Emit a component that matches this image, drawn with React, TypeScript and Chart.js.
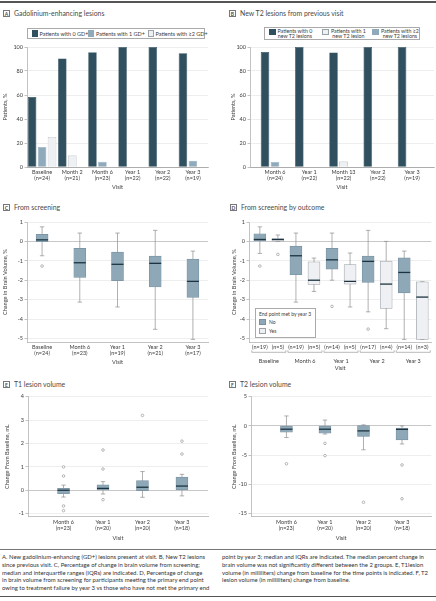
import React, { useEffect, useRef } from "react";
import { Chart, registerables } from "chart.js";
Chart.register(...registerables);

const FONT = "Lato, 'Open Sans', 'DejaVu Sans', sans-serif";
const TXT = "#3c3c3c";
const DARK = "#31505f";
const MED = "#8faabb";
const LIGHT = "#eef0f3";
const LIGHT_BORDER = "#9aa1a7";
const BOX = "#8ea8b8";
const BOX_BORDER = "#7890a0";
const MEDIAN = "#1d3440";
const WHISKER = "#8e8e8e";

// ---------------- Panel A: gadolinium-enhancing lesions ----------------
const visitsA = ["Baseline", "Month 2", "Month 6", "Year 1", "Year 2", "Year 3"];
const nA = [24, 21, 23, 22, 22, 19];
const gd0A = [58.3, 90.5, 95.7, 100, 100, 94.7];
const gd1A = [16.7, 0, 4.3, 0, 0, 5.3];
const gd2A = [25.0, 9.5, 0, 0, 0, 0];
const legendA = ["Patients with 0 GD+", "Patients with 1 GD+", "Patients with \u22652 GD+"];

// ---------------- Panel B: new T2 lesions ----------------
const visitsB = ["Month 6", "Year 1", "Month 13", "Year 2", "Year 3"];
const nB = [24, 22, 22, 22, 19];
const t2zeroB = [95.8, 100, 95.5, 100, 100];
const t2oneB = [0, 0, 4.5, 0, 0];
const t2twoB = [4.2, 0, 0, 0, 0];
const legendB = [
  ["Patients with 0", "new T2 lesions"],
  ["Patients with 1", "new T2 lesion"],
  ["Patients with \u22652", "new T2 lesions"],
];

// ---------------- Panel C: brain volume from screening ----------------
const visitsC = ["Baseline", "Month 6", "Year 1", "Year 2", "Year 3"];
const nC = [24, 23, 19, 21, 17];
const loC = [-0.74, -3.13, -3.38, -4.53, -5.05];
const q1C = [-0.02, -1.86, -2.02, -2.35, -2.89];
const medC = [0.08, -1.1, -1.18, -1.13, -2.06];
const q3C = [0.36, -0.36, -0.55, -0.76, -0.91];
const hiC = [0.75, 0.43, 0.43, 0.57, -0.5];
const outVisitC = [0];
const outValueC = [-1.27];

// ---------------- Panel D: brain volume by outcome ----------------
const visitsD = ["Baseline", "Month 6", "Year 1", "Year 2", "Year 3"];
const nNoD = [19, 19, 14, 17, 14];
const nYesD = [5, 5, 5, 4, 3];
const loNoD = [-0.62, -3.13, -2.0, -3.63, -5.05];
const q1NoD = [0.03, -1.72, -1.43, -2.11, -2.65];
const medNoD = [0.1, -0.74, -0.95, -1.03, -1.6];
const q3NoD = [0.39, -0.24, -0.36, -0.76, -0.85];
const hiNoD = [0.75, 0.43, 0.43, 0.57, -0.5];
const outVisitNoD = [0, 2, 3];
const outValueNoD = [-1.27, -3.35, -4.52];
const loYesD = [0.0, -2.58, -3.38, -4.5, -5.05];
const q1YesD = [0.0, -2.22, -2.2, -3.45, -5.05];
const medYesD = [0.1, -2.0, -2.06, -2.2, -2.87];
const q3YesD = [0.15, -1.05, -1.2, -1.02, -2.08];
const hiYesD = [0.33, -0.86, -0.6, 0.0, -2.08];
const outVisitYesD = [0];
const outValueYesD = [-0.67];

// ---------------- Panel E: T1 lesion volume ----------------
const visitsE = ["Month 6", "Year 1", "Year 2", "Year 3"];
const nE = [23, 20, 20, 18];
const loE = [-0.29, -0.16, -0.3, -0.24];
const q1E = [-0.15, 0.01, -0.02, 0.0];
const medE = [0.0, 0.08, 0.13, 0.18];
const q3E = [0.08, 0.23, 0.41, 0.56];
const hiE = [0.22, 0.37, 0.8, 0.68];
const outVisitE = [0, 0, 0, 0, 1, 1, 1, 2, 3, 3];
const outValueE = [1.0, 0.61, -0.67, -0.87, 1.72, 0.91, -0.4, 3.2, 2.1, 1.55];

// ---------------- Panel F: T2 lesion volume ----------------
const visitsF = ["Month 6", "Year 1", "Year 2", "Year 3"];
const nF = [23, 20, 20, 18];
const loF = [-2.0, -1.4, -4.1, -3.1];
const q1F = [-1.09, -1.26, -1.83, -2.4];
const medF = [-0.57, -0.57, -0.86, -0.6];
const q3F = [0.0, -0.05, 0.05, -0.4];
const hiF = [1.7, 1.0, 0.17, 0.0];
const outVisitF = [0, 1, 1, 2, 3, 3];
const outValueF = [-6.5, -3.0, -5.1, -13.1, -6.7, -12.5];

const captionLeft = [
  "A. New gadolinium-enhancing (GD+) lesions present at visit. B, New T2 lesions",
  "since previous visit. C, Percentage of change in brain volume from screening;",
  "median and interquartile ranges (IQRs) are indicated. D, Percentage of change",
  "in brain volume from screening for participants meeting the primary end point",
  "owing to treatment failure by year 3 vs those who have not met the primary end",
];
const captionRight = [
  "point by year 3; median and IQRs are indicated. The median percent change in",
  "brain volume was not significantly different between the 2 groups. E, T1lesion",
  "volume (in milliliters) change from baseline for the time points is indicated. F, T2",
  "lesion volume (in milliliters) change from baseline.",
];

// ---------------- helpers ----------------
const tickFont = { family: FONT, size: 5.5, lineHeight: 1.1 };
const titleFont = { family: FONT, size: 5.6, lineHeight: 1.1 };
const nLabel = (n: number) => `(n=${n})`;

function yAxis(o: { min: number; max: number; step: number; title: string; width: number; titlePad: number }) {
  return {
    type: "linear",
    position: "left",
    min: o.min,
    max: o.max,
    beginAtZero: false,
    ticks: { stepSize: o.step, includeBounds: false, font: tickFont, color: TXT, padding: 1.5 },
    grid: {
      color: (c: any) => (c.tick && c.tick.value === 0 ? "#a3a3a3" : "#e3e3e3"),
      lineWidth: 0.6,
      drawTicks: true,
      tickLength: 2.5,
      tickColor: "#9a9a9a",
      tickWidth: 0.6,
    },
    border: { display: true, color: "#9a9a9a", width: 0.6 },
    title: { display: true, text: o.title, font: titleFont, color: TXT, padding: { top: o.titlePad, bottom: 0 } },
    afterFit: (s: any) => {
      s.width = o.width;
    },
  };
}

function xLinear(o: {
  min: number;
  max: number;
  ticks: number[];
  labels: (string | string[])[];
  height: number;
  pad: number;
  title?: string;
  titlePad?: number;
  border?: boolean;
  weight?: number;
}) {
  return {
    type: "linear",
    position: "bottom",
    min: o.min,
    max: o.max,
    offset: false,
    weight: o.weight ?? 0,
    afterBuildTicks: (s: any) => {
      s.ticks = o.ticks.map((v) => ({ value: v }));
    },
    ticks: {
      autoSkip: false,
      maxRotation: 0,
      minRotation: 0,
      font: tickFont,
      color: TXT,
      padding: o.pad,
      callback: (_v: any, i: number) => o.labels[i],
    },
    grid: { display: false, drawTicks: false, offset: false },
    border: { display: o.border !== false, color: "#9a9a9a", width: 0.6 },
    title: o.title
      ? { display: true, text: o.title, font: titleFont, color: TXT, padding: { top: 0, bottom: o.titlePad ?? 0 } }
      : { display: false },
    afterFit: (s: any) => {
      s.height = o.height;
    },
  };
}

// compact non-zero series into left-aligned slots, as in the original figure
function slotsFrom(series: number[][], fills: string[], borders: string[]) {
  const n = series[0].length;
  const slots = series.map(() => ({
    data: new Array(n).fill(null) as (number | null)[],
    bg: new Array(n).fill("rgba(0,0,0,0)") as string[],
    bd: new Array(n).fill("rgba(0,0,0,0)") as string[],
  }));
  for (let i = 0; i < n; i++) {
    let k = 0;
    series.forEach((s, j) => {
      if (s[i] > 0) {
        slots[k].data[i] = s[i];
        slots[k].bg[i] = fills[j];
        slots[k].bd[i] = borders[j];
        k++;
      }
    });
  }
  return slots;
}

type BoxItem = { ds: number; lo: number[]; hi: number[]; med: number[] };
function makeBoxPlugin(items: BoxItem[], brackets?: { pairs: number[][] }) {
  return {
    id: "boxExtras",
    beforeDatasetsDraw(chart: any) {
      const ctx = chart.ctx;
      const y = chart.scales.y;
      ctx.save();
      ctx.strokeStyle = WHISKER;
      ctx.lineWidth = 0.7;
      items.forEach((it) => {
        const meta = chart.getDatasetMeta(it.ds);
        meta.data.forEach((el: any, i: number) => {
          const x = el.x;
          const ylo = y.getPixelForValue(it.lo[i]);
          const yhi = y.getPixelForValue(it.hi[i]);
          ctx.beginPath();
          ctx.moveTo(x, ylo);
          ctx.lineTo(x, yhi);
          ctx.moveTo(x - 2.2, ylo);
          ctx.lineTo(x + 2.2, ylo);
          ctx.moveTo(x - 2.2, yhi);
          ctx.lineTo(x + 2.2, yhi);
          ctx.stroke();
        });
      });
      ctx.restore();
    },
    afterDatasetsDraw(chart: any) {
      const ctx = chart.ctx;
      const y = chart.scales.y;
      ctx.save();
      ctx.strokeStyle = MEDIAN;
      ctx.lineWidth = 1.3;
      items.forEach((it) => {
        const meta = chart.getDatasetMeta(it.ds);
        meta.data.forEach((el: any, i: number) => {
          const ym = y.getPixelForValue(it.med[i]);
          ctx.beginPath();
          ctx.moveTo(el.x - el.width / 2, ym);
          ctx.lineTo(el.x + el.width / 2, ym);
          ctx.stroke();
        });
      });
      ctx.restore();
    },
    afterDraw(chart: any) {
      if (!brackets) return;
      const ctx = chart.ctx;
      const xs = chart.scales.x;
      const yb = xs.bottom + 1;
      ctx.save();
      ctx.strokeStyle = "#8a8a8a";
      ctx.lineWidth = 0.6;
      brackets.pairs.forEach(([a, b]) => {
        const l = xs.getPixelForValue(a) - 8;
        const r = xs.getPixelForValue(b) + 8;
        ctx.beginPath();
        ctx.moveTo(l, yb - 2);
        ctx.lineTo(l, yb);
        ctx.lineTo(r, yb);
        ctx.lineTo(r, yb - 2);
        ctx.stroke();
      });
      ctx.restore();
    },
  };
}

function boxDataset(xs: number[], q1: number[], q3: number[], fill: string, border: string) {
  return {
    type: "bar",
    data: xs.map((x, i) => ({ x, y: [q1[i], q3[i]] })),
    backgroundColor: fill,
    borderColor: border,
    borderWidth: 0.7,
    borderSkipped: false,
    barThickness: 12,
    grouped: false,
  };
}

function outlierDataset(xs: number[], vals: number[]) {
  return {
    type: "scatter",
    data: xs.map((x, i) => ({ x, y: vals[i] })),
    pointRadius: 1.3,
    pointStyle: "circle",
    backgroundColor: "#ffffff",
    borderColor: "#9a9a9a",
    borderWidth: 0.7,
    showLine: false,
  };
}

const basePlugins = { legend: { display: false }, tooltip: { enabled: false } };

// ---------------- chart configs ----------------
function configA() {
  const slots = slotsFrom([gd0A, gd1A, gd2A], [DARK, MED, LIGHT], [DARK, MED, LIGHT_BORDER]);
  return {
    type: "bar",
    data: {
      labels: visitsA.map((v, i) => [v, nLabel(nA[i])]),
      datasets: slots.map((s) => ({
        data: s.data,
        backgroundColor: s.bg,
        borderColor: s.bd,
        borderWidth: 0.6,
        categoryPercentage: 0.99,
        barPercentage: 0.86,
      })),
    },
    options: {
      animation: false,
      responsive: false,
      layout: { padding: { top: 7, right: 8, left: 0, bottom: 0 } },
      plugins: basePlugins,
      scales: {
        x: {
          type: "category",
          grid: { display: false, drawTicks: false },
          border: { display: true, color: "#9a9a9a", width: 0.6 },
          ticks: { font: tickFont, color: TXT, padding: 2.3, maxRotation: 0, autoSkip: false },
          title: { display: true, text: "Visit", font: titleFont, color: TXT, padding: { top: 0, bottom: 4.7 } },
          afterFit: (s: any) => {
            s.height = 28;
          },
        },
        y: yAxis({ min: 0, max: 100, step: 20, title: "Patients, %", width: 27, titlePad: 2 }),
      },
    },
  };
}

function configB() {
  const slots = slotsFrom([t2zeroB, t2oneB, t2twoB], [DARK, LIGHT, MED], [DARK, LIGHT_BORDER, MED]);
  const xs = visitsB.map((_, i) => i + 1);
  return {
    type: "bar",
    data: {
      datasets: slots.map((s) => ({
        data: xs.map((x, i) => ({ x, y: s.data[i] })),
        backgroundColor: s.bg,
        borderColor: s.bd,
        borderWidth: 0.6,
        categoryPercentage: 0.876,
        barPercentage: 0.86,
      })),
    },
    options: {
      animation: false,
      responsive: false,
      layout: { padding: { top: 7, right: 2, left: 0, bottom: 0 } },
      plugins: basePlugins,
      scales: {
        x: xLinear({
          min: 0.27,
          max: 5.64,
          ticks: xs,
          labels: visitsB.map((v, i) => [v, nLabel(nB[i])]),
          height: 28,
          pad: 2.3,
          title: "Visit",
          titlePad: 4.7,
        }),
        y: yAxis({ min: 0, max: 100, step: 20, title: "Patients, %", width: 34, titlePad: 14 }),
      },
    },
  };
}

function configC() {
  const xs = visitsC.map((_, i) => i + 1);
  return {
    type: "bar",
    data: {
      datasets: [
        boxDataset(xs, q1C, q3C, BOX, BOX_BORDER),
        outlierDataset(outVisitC.map((v) => v + 1), outValueC),
      ],
    },
    options: {
      animation: false,
      responsive: false,
      layout: { padding: { top: 7, right: 8, left: 0, bottom: 0 } },
      plugins: basePlugins,
      scales: {
        x: xLinear({
          min: 0.6,
          max: 5.4,
          ticks: xs,
          labels: visitsC.map((v, i) => [v, nLabel(nC[i])]),
          height: 27.7,
          pad: 2,
          title: "Visit",
          titlePad: 4.3,
        }),
        y: yAxis({ min: -5.2, max: 1, step: 1, title: "Change in Brain Volume, %", width: 27, titlePad: 2 }),
      },
    },
    plugins: [makeBoxPlugin([{ ds: 0, lo: loC, hi: hiC, med: medC }])],
  };
}

function configD() {
  const xsNo = visitsD.map((_, i) => 2 * i + 1);
  const xsYes = visitsD.map((_, i) => 2 * i + 2);
  const nTicks: number[] = [];
  const nLabels: string[] = [];
  visitsD.forEach((_, i) => {
    nTicks.push(2 * i + 1, 2 * i + 2);
    nLabels.push(nLabel(nNoD[i]), nLabel(nYesD[i]));
  });
  return {
    type: "bar",
    data: {
      datasets: [
        boxDataset(xsNo, q1NoD, q3NoD, BOX, BOX_BORDER),
        boxDataset(xsYes, q1YesD, q3YesD, LIGHT, LIGHT_BORDER),
        outlierDataset(outVisitNoD.map((v) => 2 * v + 1), outValueNoD),
        outlierDataset(outVisitYesD.map((v) => 2 * v + 2), outValueYesD),
      ],
    },
    options: {
      animation: false,
      responsive: false,
      layout: { padding: { top: 7, right: 0, left: 0, bottom: 0 } },
      plugins: basePlugins,
      scales: {
        x: xLinear({ min: 0.4, max: 10.5, ticks: nTicks, labels: nLabels, height: 9, pad: 2, weight: 0 }),
        x2: xLinear({
          min: 0.4,
          max: 10.5,
          ticks: visitsD.map((_, i) => 2 * i + 1.5),
          labels: visitsD,
          height: 23.7,
          pad: 6.4,
          title: "Visit",
          titlePad: 3.7,
          border: false,
          weight: 1,
        }),
        y: yAxis({ min: -5.2, max: 1, step: 1, title: "Change in Brain Volume, %", width: 33, titlePad: 15.3 }),
      },
    },
    plugins: [
      makeBoxPlugin(
        [
          { ds: 0, lo: loNoD, hi: hiNoD, med: medNoD },
          { ds: 1, lo: loYesD, hi: hiYesD, med: medYesD },
        ],
        { pairs: visitsD.map((_, i) => [2 * i + 1, 2 * i + 2]) }
      ),
    ],
  };
}

function configEF(
  visits: string[],
  n: number[],
  lo: number[],
  q1: number[],
  med: number[],
  q3: number[],
  hi: number[],
  outV: number[],
  outY: number[],
  y: { min: number; max: number; step: number; width: number; titlePad: number },
  x: { min: number; max: number },
  rightPad: number
) {
  const xs = visits.map((_, i) => i + 1);
  return {
    type: "bar",
    data: {
      datasets: [boxDataset(xs, q1, q3, BOX, BOX_BORDER), outlierDataset(outV.map((v) => v + 1), outY)],
    },
    options: {
      animation: false,
      responsive: false,
      layout: { padding: { top: 6.7, right: rightPad, left: 0, bottom: 0 } },
      plugins: basePlugins,
      scales: {
        x: xLinear({
          min: x.min,
          max: x.max,
          ticks: xs,
          labels: visits.map((v, i) => [v, nLabel(n[i])]),
          height: 28.3,
          pad: 2,
          title: "Visit",
          titlePad: 3.7,
        }),
        y: yAxis({ ...y, title: "Change From Baseline, mL" }),
      },
    },
    plugins: [makeBoxPlugin([{ ds: 0, lo, hi, med }])],
  };
}

function ChartCanvas(p: { left: number; top: number; width: number; height: number; make: () => any }) {
  const ref = useRef<HTMLCanvasElement>(null);
  useEffect(() => {
    const chart = new Chart(ref.current as HTMLCanvasElement, p.make());
    return () => chart.destroy();
  }, []);
  return (
    <canvas
      ref={ref}
      width={p.width}
      height={p.height}
      style={{ position: "absolute", left: p.left, top: p.top, width: p.width, height: p.height }}
    />
  );
}

function PanelHeader(p: { x: number; y: number; letter: string; text: string }) {
  return (
    <div
      style={{
        position: "absolute",
        left: p.x,
        top: p.y - 5,
        height: 10,
        display: "flex",
        alignItems: "center",
        fontFamily: FONT,
        fontSize: 6.9,
        color: "#4a4a4a",
        whiteSpace: "nowrap",
      }}
    >
      <span
        style={{
          display: "inline-block",
          width: 7,
          height: 7,
          border: "0.7px solid #777",
          boxSizing: "border-box",
          fontSize: 5,
          lineHeight: "6px",
          textAlign: "center",
          fontWeight: 700,
          marginRight: 4,
        }}
      >
        {p.letter}
      </span>
      <span>{p.text}</span>
    </div>
  );
}

function Swatch(p: { color: string; border: string; w?: number; h?: number }) {
  return (
    <span
      style={{
        display: "inline-block",
        width: p.w ?? 6,
        height: p.h ?? 6,
        background: p.color,
        border: `0.6px solid ${p.border}`,
        boxSizing: "border-box",
        flex: "none",
      }}
    />
  );
}

function LegendA() {
  const cols = [DARK, MED, LIGHT];
  const bords = [DARK, MED, LIGHT_BORDER];
  const xs = [3.5, 60, 119.5];
  return (
    <div
      style={{
        position: "absolute",
        left: 27,
        top: 28,
        width: 178,
        height: 11,
        border: "0.7px solid #aaa",
        boxSizing: "border-box",
        fontFamily: FONT,
        fontSize: 5.5,
        color: TXT,
      }}
    >
      {legendA.map((t, i) => (
        <div
          key={i}
          style={{ position: "absolute", left: xs[i], top: 1.3, display: "flex", alignItems: "center", whiteSpace: "nowrap", height: 7 }}
        >
          <Swatch color={cols[i]} border={bords[i]} w={6} h={7} />
          <span style={{ marginLeft: 2 }}>{t}</span>
        </div>
      ))}
    </div>
  );
}

function LegendB() {
  const cols = [DARK, LIGHT, MED];
  const bords = [DARK, LIGHT_BORDER, MED];
  const xs = [3.5, 57, 107];
  return (
    <div
      style={{
        position: "absolute",
        left: 264,
        top: 26.5,
        width: 156,
        height: 13,
        border: "0.7px solid #aaa",
        boxSizing: "border-box",
        fontFamily: FONT,
        fontSize: 5.3,
        color: TXT,
      }}
    >
      {legendB.map((t, i) => (
        <div key={i} style={{ position: "absolute", left: xs[i], top: 1.3, display: "flex", alignItems: "flex-start" }}>
          <Swatch color={cols[i]} border={bords[i]} w={7} h={6} />
          <span style={{ marginLeft: 2, lineHeight: "4.8px", textAlign: "center", whiteSpace: "nowrap" }}>
            {t[0]}
            <br />
            {t[1]}
          </span>
        </div>
      ))}
    </div>
  );
}

function LegendD() {
  return (
    <div
      style={{
        position: "absolute",
        left: 255,
        top: 308,
        width: 61,
        height: 30,
        border: "0.7px solid #aaa",
        boxSizing: "border-box",
        background: "#fff",
        fontFamily: FONT,
        fontSize: 5,
        color: TXT,
        padding: "2px 0 0 3px",
        lineHeight: "6px",
        whiteSpace: "nowrap",
      }}
    >
      <div>End point met by year 3</div>
      <div style={{ display: "flex", alignItems: "center", marginTop: 1.5 }}>
        <Swatch color={BOX} border={BOX_BORDER} w={7} h={6} />
        <span style={{ marginLeft: 3 }}>No</span>
      </div>
      <div style={{ display: "flex", alignItems: "center", marginTop: 3 }}>
        <Swatch color={LIGHT} border={LIGHT_BORDER} w={7} h={6} />
        <span style={{ marginLeft: 3 }}>Yes</span>
      </div>
    </div>
  );
}

function Caption(p: { x: number; lines: string[] }) {
  return (
    <div
      style={{
        position: "absolute",
        left: p.x,
        top: 553,
        fontFamily: FONT,
        fontSize: 5.95,
        lineHeight: "7.8px",
        color: "#333",
        whiteSpace: "nowrap",
      }}
    >
      {p.lines.map((l, i) => (
        <div key={i}>{l}</div>
      ))}
    </div>
  );
}

export default function App() {
  return (
    <div
      style={{
        position: "absolute",
        left: 0,
        top: 0,
        width: 436,
        height: 601,
        background: "#fff",
        overflow: "hidden",
        fontFamily: FONT,
      }}
    >
      <div style={{ position: "absolute", left: 0, top: 1, width: 436, height: 1.5, background: "#555" }} />

      <PanelHeader x={3} y={13} letter="A" text="Gadolinium-enhancing lesions" />
      <PanelHeader x={229} y={13} letter="B" text="New T2 lesions from previous visit" />
      <LegendA />
      <LegendB />
      <ChartCanvas left={0} top={40} width={216} height={155} make={configA} />
      <ChartCanvas left={216} top={40} width={220} height={155} make={configB} />

      <PanelHeader x={3} y={207} letter="C" text="From screening" />
      <PanelHeader x={230} y={207} letter="D" text="From screening by outcome" />
      <ChartCanvas left={0} top={215} width={216} height={155} make={configC} />
      <ChartCanvas left={216} top={215} width={220} height={160} make={configD} />
      <LegendD />

      <PanelHeader x={3} y={384} letter="E" text="T1 lesion volume" />
      <PanelHeader x={229} y={384} letter="F" text="T2 lesion volume" />
      <ChartCanvas
        left={0}
        top={390}
        width={216}
        height={155}
        make={() =>
          configEF(visitsE, nE, loE, q1E, medE, q3E, hiE, outVisitE, outValueE,
            { min: -1.13, max: 4, step: 1, width: 28, titlePad: 3.7 },
            { min: 0.1, max: 4.66 }, 8)
        }
      />
      <ChartCanvas
        left={216}
        top={390}
        width={220}
        height={155}
        make={() =>
          configEF(visitsF, nF, loF, q1F, medF, q3F, hiF, outVisitF, outValueF,
            { min: -15.57, max: 5, step: 5, width: 35, titlePad: 15.3 },
            { min: 0.08, max: 4.76 }, 2)
        }
      />

      <div style={{ position: "absolute", left: 0, top: 549, width: 436, height: 0.8, background: "#777" }} />
      <Caption x={2} lines={captionLeft} />
      <Caption x={222} lines={captionRight} />
      <div style={{ position: "absolute", left: 0, top: 595.5, width: 436, height: 1.5, background: "#555" }} />
    </div>
  );
}
